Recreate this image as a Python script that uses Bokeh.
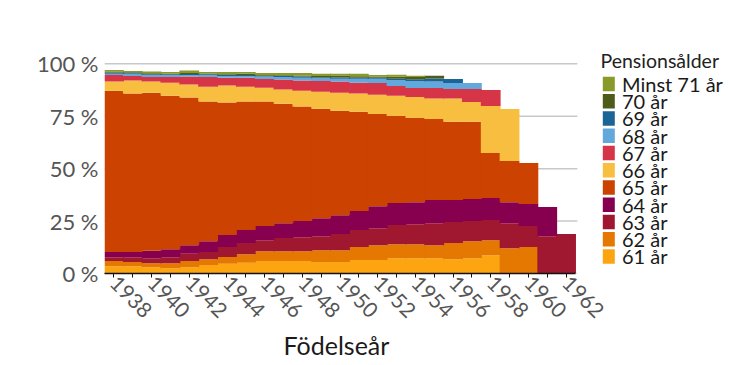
import math
import numpy as np
from bokeh.plotting import figure
from bokeh.models import ColumnDataSource, Range1d, FixedTicker, Title
from bokeh.core.properties import value
from bokeh.embed import file_html
from bokeh.resources import INLINE

NA = float("nan")  # category not (yet) reached by that cohort

years = [1938, 1939, 1940, 1941, 1942, 1943, 1944, 1945, 1946, 1947, 1948, 1949,
         1950, 1951, 1952, 1953, 1954, 1955, 1956, 1957, 1958, 1959, 1960, 1961, 1962]

categories = ["61 år", "62 år", "63 år", "64 år", "65 år", "66 år",
              "67 år", "68 år", "69 år", "70 år", "Minst 71 år"]

age61 = [3.5, 3.5, 3.0, 2.5, 3.0, 4.1, 4.6, 5.1, 6.0, 6.0, 6.0, 5.5, 5.5, 6.4, 6.4, 7.3, 7.3, 7.3, 6.8, 7.3, 8.7, 0, 0, 0, 0]
age62 = [2.5, 2.0, 1.9, 2.4, 3.0, 2.7, 3.3, 4.1, 4.6, 4.6, 4.6, 5.6, 5.6, 6.2, 7.1, 6.7, 6.7, 6.2, 7.7, 8.1, 7.2, 12.1, 12.6, 0, 0]
age63 = [1.8, 2.3, 2.4, 2.9, 3.4, 3.5, 4.7, 5.3, 5.3, 6.3, 6.7, 6.7, 7.7, 8.1, 8.1, 9.1, 9.5, 10.5, 10.0, 9.6, 9.6, 11.9, 10.0, 17.8, 18.8]
age64 = [2.5, 2.5, 3.5, 3.8, 4.1, 5.1, 5.7, 6.2, 6.7, 7.1, 7.7, 8.6, 9.0, 9.1, 10.5, 10.5, 10.5, 11.0, 10.5, 10.5, 10.5, 10.0, 10.5, 13.9, NA]
age65 = [76.9, 75.5, 75.4, 73.2, 70.4, 66.6, 63.2, 61.3, 59.4, 57.0, 54.6, 52.2, 49.8, 47.3, 44.0, 41.5, 40.2, 38.7, 37.4, 36.9, 21.5, 19.6, 19.6, NA, NA]
age66 = [4.3, 6.2, 5.3, 6.2, 6.2, 7.1, 8.1, 7.1, 6.6, 6.7, 7.6, 8.1, 8.6, 8.7, 9.2, 9.7, 10.0, 9.7, 11.0, 9.4, 22.4, 24.9, NA, NA, NA]
age67 = [3.2, 2.2, 2.2, 2.7, 3.8, 4.6, 3.7, 4.2, 4.2, 4.8, 4.8, 5.1, 5.3, 5.2, 5.6, 4.6, 4.3, 5.1, 4.6, 6.2, 7.6, NA, NA, NA, NA]
age68 = [0.6, 1.0, 1.0, 1.0, 0.8, 1.0, 0.9, 0.9, 1.1, 1.2, 1.4, 1.3, 1.4, 1.9, 2.0, 2.9, 3.3, 3.0, 2.8, 2.9, NA, NA, NA, NA, NA]
age69 = [0.5, 0.4, 0.3, 0.3, 0.4, 0.3, 0.4, 0.5, 0.4, 0.5, 0.5, 0.5, 0.6, 0.5, 0.5, 0.6, 0.8, 1.5, 2.0, NA, NA, NA, NA, NA, NA]
age70 = [0.5, 0.4, 0.5, 0.3, 0.5, 0.4, 0.4, 0.6, 0.4, 0.3, 0.5, 0.6, 0.9, 0.7, 0.6, 0.9, 1.1, 1.3, NA, NA, NA, NA, NA, NA, NA]
age71 = [0.8, 0.6, 0.8, 0.8, 1.2, 0.7, 1.1, 0.8, 0.9, 1.1, 1.2, 1.0, 0.8, 1.1, 0.7, 1.0, 0.6, NA, NA, NA, NA, NA, NA, NA, NA]

colors = ["#fca510", "#e47800", "#a0182f", "#870050", "#cc4200", "#f8be40",
          "#d63447", "#62a8dc", "#1a6496", "#4e5c1a", "#8a9a2a"]

y_ticks = [0, 25, 50, 75, 100]
y_labels = ["0 %", "25 %", "50 %", "75 %", "100 %"]

legend_title = "Pensionsålder"
x_title = "Födelseår"

FONT = "Lato"

series = [age61, age62, age63, age64, age65, age66, age67, age68, age69, age70, age71]
data = {"year": np.array(years, dtype=float)}
for c, s in zip(categories, series):
    data[c] = np.array(s, dtype=float)
source = ColumnDataSource(data)

# ---- geometry (screen pixels) ----
W, H = 730, 365
LEFT, TOP, BOTTOM = 104, 40, 92            # frame spans the legend area on the right too
PLOT_RIGHT = 575                           # where the bar area ends
Y100 = 63.3                                # screen y of the 100 % line
frame_bottom = H - BOTTOM
px_per_year = (PLOT_RIGHT - LEFT) / 25.0
x0 = years[0] - 0.5
x1 = years[-1] + 0.5
x_end = x0 + (W - LEFT) / px_per_year
y_end = 100.0 * (frame_bottom - TOP) / (frame_bottom - Y100)

p = figure(width=W, height=H, output_backend="svg", toolbar_location=None,
           x_range=Range1d(x0, x_end), y_range=Range1d(0, y_end),
           min_border_left=LEFT, min_border_right=0, min_border_top=TOP,
           min_border_bottom=BOTTOM)
p.outline_line_color = None
p.extra_x_ranges = {"px": Range1d(LEFT, W)}
p.extra_y_ranges = {"px": Range1d(frame_bottom, TOP)}

# horizontal grid lines, limited to the bar area
p.segment(x0=[x0] * len(y_ticks), x1=[x1 + 0.1] * len(y_ticks), y0=y_ticks, y1=y_ticks,
          line_color="#c8c8c8", line_width=1.5)

renderers = p.vbar_stack(categories, x="year", width=1.05, source=source,
                         fill_color=colors, line_color=None)

p.xgrid.grid_line_color = None
p.ygrid.grid_line_color = None

p.xaxis.bounds = (x0, x1)
p.xaxis.ticker = FixedTicker(ticks=years)
p.xaxis.major_label_overrides = {y: (str(y) if y % 2 == 0 else "") for y in years}
p.xaxis.major_label_orientation = -math.pi / 4
p.xaxis.major_label_text_font = FONT
p.xaxis.major_label_text_font_size = "21px"
p.xaxis.major_label_text_color = "#555555"
p.xaxis.major_tick_out = 4
p.xaxis.major_tick_in = 0
p.xaxis.major_tick_line_color = "#111111"
p.xaxis.minor_tick_line_color = None
p.xaxis.axis_line_color = "#111111"
p.xaxis.axis_line_width = 1.5
p.xaxis.major_label_standoff = 2

# x-axis title, centred under the bar area (not under the legend)
p.add_layout(Title(text=x_title, align="left", offset=179, standoff=0,
                   text_font=FONT, text_font_size="25px", text_font_style="normal",
                   text_color="#1a1a1a"), "below")

p.yaxis.ticker = FixedTicker(ticks=y_ticks)
p.yaxis.major_label_overrides = dict(zip(y_ticks, y_labels))
p.yaxis.major_label_text_font = FONT
p.yaxis.major_label_text_font_size = "22px"
p.yaxis.major_label_text_color = "#555555"
p.yaxis.axis_line_color = None
p.yaxis.major_tick_line_color = None
p.yaxis.minor_tick_line_color = None
p.yaxis.major_tick_out = 0
p.yaxis.major_label_standoff = 6

# ---- legend (drawn in pixel coordinates via the "px" ranges) ----
order = list(range(len(categories)))[::-1]          # top: Minst 71 år ... bottom: 61 år
leg_labels = [categories[i] for i in order]
leg_colors = [colors[i] for i in order]
row0, pitch = 83.4, 17.25
rows = [row0 + pitch * k for k in range(len(order))]
sq_h, sq_w = 14.5, 12.0
leg_src = ColumnDataSource(dict(label=leg_labels, color=leg_colors, yc=rows))

p.rect(x=608.3, y="yc", width=sq_w, height=sq_h, fill_color="color",
       line_color=None, source=leg_src, x_range_name="px", y_range_name="px")
p.text(x=621.5, y="yc", text="label", source=leg_src,
       text_font=value(FONT), text_font_size="20px", text_color="#1a1a1a",
       text_baseline="alphabetic", text_align="left",
       x_range_name="px", y_range_name="px")
p.text(x=[600.0], y=[59.5], text=[legend_title],
       text_font=value(FONT), text_font_size="19.5px", text_color="#222222",
       text_baseline="alphabetic", text_align="left",
       x_range_name="px", y_range_name="px")

open("out.html", "w").write(file_html(p, INLINE))
